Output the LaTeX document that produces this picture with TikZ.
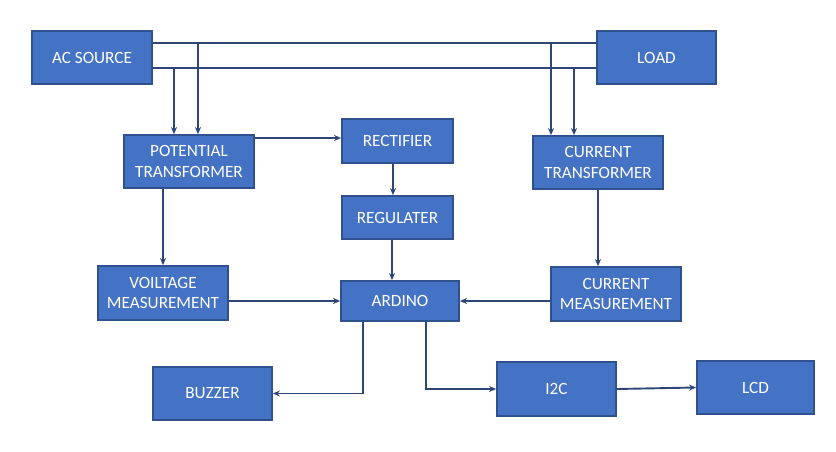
\documentclass[tikz,border=0pt]{standalone}
\usepackage{fontspec}
\setmainfont{Carlito}
\usetikzlibrary{arrows.meta}
\definecolor{boxfill}{HTML}{4472C4}
\definecolor{boxline}{HTML}{2F528F}
\definecolor{wire}{HTML}{2E4677}
\begin{document}
\begin{tikzpicture}[x=1pt,y=-1pt,
  blk/.style={draw=boxline, line width=1.8pt, fill=boxfill, text=white, align=center,
    inner sep=0pt, font=\fontsize{17.2}{20.5}\selectfont},
  arr/.style={draw=wire, line width=1.9pt, -{Stealth[length=7pt,width=6pt]}},
  ln/.style={draw=wire, line width=1.9pt}]
\useasboundingbox (0,0) rectangle (836,452);
\node[blk, minimum width=120pt, minimum height=53pt] (ac) at (92,57.5) {AC SOURCE};
\node[blk, minimum width=119pt, minimum height=53pt] (load) at (656.5,57.5) {LOAD};
\node[blk, minimum width=130pt, minimum height=53pt] (pt) at (189,161.5) {POTENTIAL\\TRANSFORMER};
\node[blk, minimum width=111pt, minimum height=44pt] (rect) at (397.5,141) {RECTIFIER};
\node[blk, minimum width=111pt, minimum height=43pt] (reg) at (397.5,217.5) {REGULATER};
\node[blk, minimum width=130pt, minimum height=53pt] (ct) at (598,162.5) {CURRENT\\TRANSFORMER};
\node[blk, minimum width=130pt, minimum height=54pt] (vm) at (163,293) {VOILTAGE\\MEASUREMENT};
\node[blk, minimum width=118pt, minimum height=40pt] (ard) at (400,301) {ARDINO};
\node[blk, minimum width=130pt, minimum height=54pt] (cm) at (616,294) {CURRENT\\MEASUREMENT};
\node[blk, minimum width=119pt, minimum height=53pt] (buz) at (212.5,393.5) {BUZZER};
\node[blk, minimum width=119pt, minimum height=54pt] (i2c) at (556.5,389) {I2C};
\node[blk, minimum width=117pt, minimum height=53pt] (lcd) at (755.5,387.5) {LCD};
% bus lines
\coordinate (t1) at (198,43);
\coordinate (t2) at (551,43);
\coordinate (b1) at (174,68);
\coordinate (b2) at (574,68);
\draw[ln] (t1 -| ac.east) -- (t1 -| load.west);
\draw[ln] (b1 -| ac.east) -- (b1 -| load.west);
\draw[arr] (t1) -- (t1 |- pt.north);
\draw[arr] (b1) -- (b1 |- pt.north);
\draw[arr] (t2) -- (t2 |- ct.north);
\draw[arr] (b2) -- (b2 |- ct.north);
% signal paths
\draw[arr] ([yshift=3pt]rect.west -| pt.east) -- ([yshift=3pt]rect.west);
\draw[arr] ([xshift=-4.5pt]rect.south) -- ([xshift=-4.5pt]reg.north);
\draw[arr] ([xshift=-5.5pt]reg.south) -- ([xshift=-8pt]ard.north);
\draw[arr] (pt.south -| vm.north) -- (vm.north);
\draw[arr] (ct.south) -- (ct.south |- cm.north);
\draw[arr] (ard.west -| vm.east) -- (ard.west);
\draw[arr] (ard.east -| cm.west) -- (ard.east);
\draw[arr] ([xshift=-37pt]ard.south) |- (buz.east);
\draw[arr] ([xshift=26pt]ard.south) |- (i2c.west);
\draw[arr] (i2c.east) -- (lcd.west);
\end{tikzpicture}
\end{document}
